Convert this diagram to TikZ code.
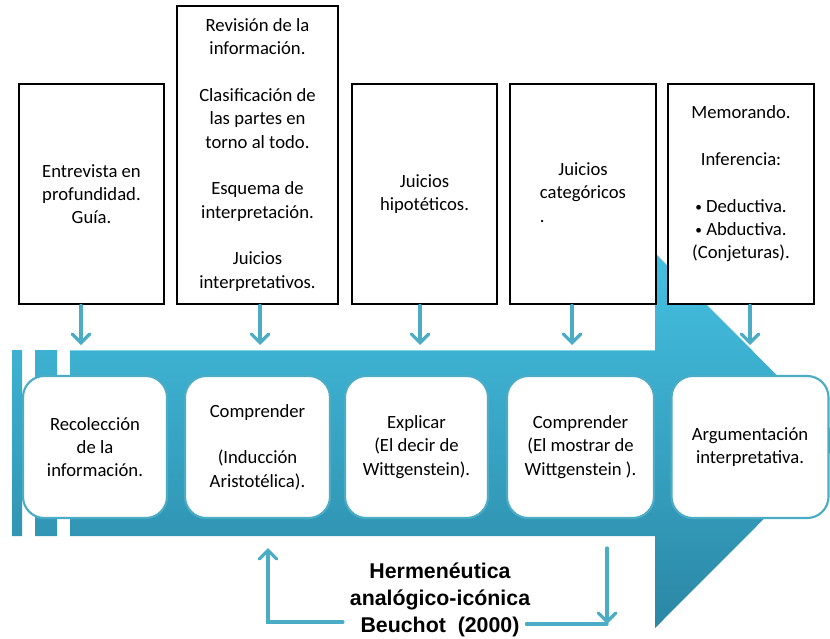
\documentclass[tikz,border=0pt]{standalone}
\usepackage{fontspec}
\setmainfont{Carlito}
\newfontfamily\titlefont{Liberation Sans}
\usetikzlibrary{arrows.meta}

\definecolor{flowblue}{HTML}{4BACC6}
\definecolor{bodytop}{HTML}{44C0E1}
\definecolor{bodybot}{HTML}{2B87A5}
\definecolor{edgelight}{HTML}{7FD3EA}

\newcommand{\smallbullet}{\raisebox{0.8pt}{\fontsize{10}{10}\selectfont •}}

\begin{document}
\begin{tikzpicture}[x=0.75pt,y=-0.75pt,
  note/.style={draw=black,line width=2.2pt,fill=white,align=center,
    font=\fontsize{14}{17.5}\selectfont,inner sep=0pt},
  notetext/.style={align=center,font=\fontsize{14}{17.5}\selectfont,inner sep=0pt},
  stage/.style={draw=flowblue,line width=1.6pt,fill=white,rounded corners=16pt,
    align=center,font=\fontsize{14}{17.5}\selectfont,inner sep=0pt,
    minimum height=142*0.75pt},
  feed/.style={draw=flowblue,line width=2.4pt,line cap=round,
    -{Straight Barb[length=6.5pt,width=13pt,line cap=round]}},
  plain/.style={draw=flowblue,line width=2.4pt,line cap=round},
  band/.style={top color=bodytop,bottom color=bodybot,draw=none},
  titletext/.style={align=center,inner sep=5pt,
    font=\titlefont\bfseries\fontsize{16}{20.25}\selectfont}
]
\useasboundingbox (0,0) rectangle (830,638);

% ---- big process arrow with the two bars at its tail (one shading) ----
\begin{scope}
  \clip (0,0) rectangle (830,638);
  \path[band] (12,350) rectangle (22,536)
        (35,350) rectangle (57,536)
        (70,350) -- (655,350) -- (655,253) -- (842,440.5)
        -- (655,628) -- (655,536) -- (70,536) -- cycle;
  \draw[edgelight,line width=1pt] (70,350.5) -- (655,350.5);
\end{scope}

% ---- upper boxes ----
\node[note,minimum width=145*0.75pt,minimum height=220*0.75pt] (b1) at (91.5,194)
  {Entrevista en\\profundidad.\\Guía.};
\node[note,minimum width=161*0.75pt,minimum height=298*0.75pt] (b2) at (257.5,155)
  {Revisión de la\\información.\\[17.5pt]
   Clasificación de\\las partes en\\torno al todo.\\[17.5pt]
   Esquema de\\interpretación.\\[17.5pt]
   Juicios\\interpretativos.};
\node[note,minimum width=145*0.75pt,minimum height=220*0.75pt] (b3) at (424.5,194)
  {Juicios\\hipotéticos.};
\node[note,minimum width=146*0.75pt,minimum height=220*0.75pt] (b4) at (583,194)
  {Juicios\\categóricos\\\rlap{.}\phantom{categóricos}};
\node[note,minimum width=146*0.75pt,minimum height=220*0.75pt] (b5) at (741,194) {};
\node[notetext] (b5t) at ([yshift=7.5pt]b5.center)
  {Memorando.\\[17.5pt]Inferencia:\\[17.5pt]\smallbullet\ Deductiva.\\
   \smallbullet\ Abductiva.\\(Conjeturas).};

% ---- arrows from the boxes into the process ----
\coordinate (t1) at (81,345);
\coordinate (t2) at (260,345);
\coordinate (t3) at (420,345);
\coordinate (t4) at (572,345);
\coordinate (t5) at (750,345);
\draw[feed] (b1.south -| t1) -- (t1);
\draw[feed] (b2.south -| t2) -- (t2);
\draw[feed] (b3.south -| t3) -- (t3);
\draw[feed] (b4.south -| t4) -- (t4);
\draw[feed] (b5.south -| t5) -- (t5);

% ---- stages inside the arrow ----
\node[stage,minimum width=144*0.75pt] (s1) at (95,447)
  {Recolección\\de la\\información.};
\node[stage,minimum width=145*0.75pt] (s2) at (257.5,447)
  {Comprender\\[17.5pt](Inducción\\Aristotélica).};
\node[stage,minimum width=143*0.75pt] (s3) at (416.5,447)
  {Explicar\\(El decir de\\Wittgenstein).};
\node[stage,minimum width=147*0.75pt] (s4) at (580.5,447)
  {Comprender\\(El mostrar de\\Wittgenstein ).};
\node[stage,minimum width=157*0.75pt] (s5) at (750,447)
  {Argumentación\\interpretativa.};

% ---- title with its feedback loop ----
\node[titletext] (hb) at (440,600)
  {Hermenéutica\\analógico-icónica\\Beuchot~ (2000)};
\coordinate (upTip) at (268,548);
\coordinate (lCorner) at (268,622);
\coordinate (rTop) at (607,548);
\coordinate (rCorner) at (607,624);
\draw[feed] (hb.west |- lCorner) -- (lCorner) -- (upTip);
\draw[plain] ([xshift=-8pt]hb.east |- rCorner) -- (rCorner);
\draw[feed] (rTop) -- (rCorner);
\end{tikzpicture}
\end{document}
